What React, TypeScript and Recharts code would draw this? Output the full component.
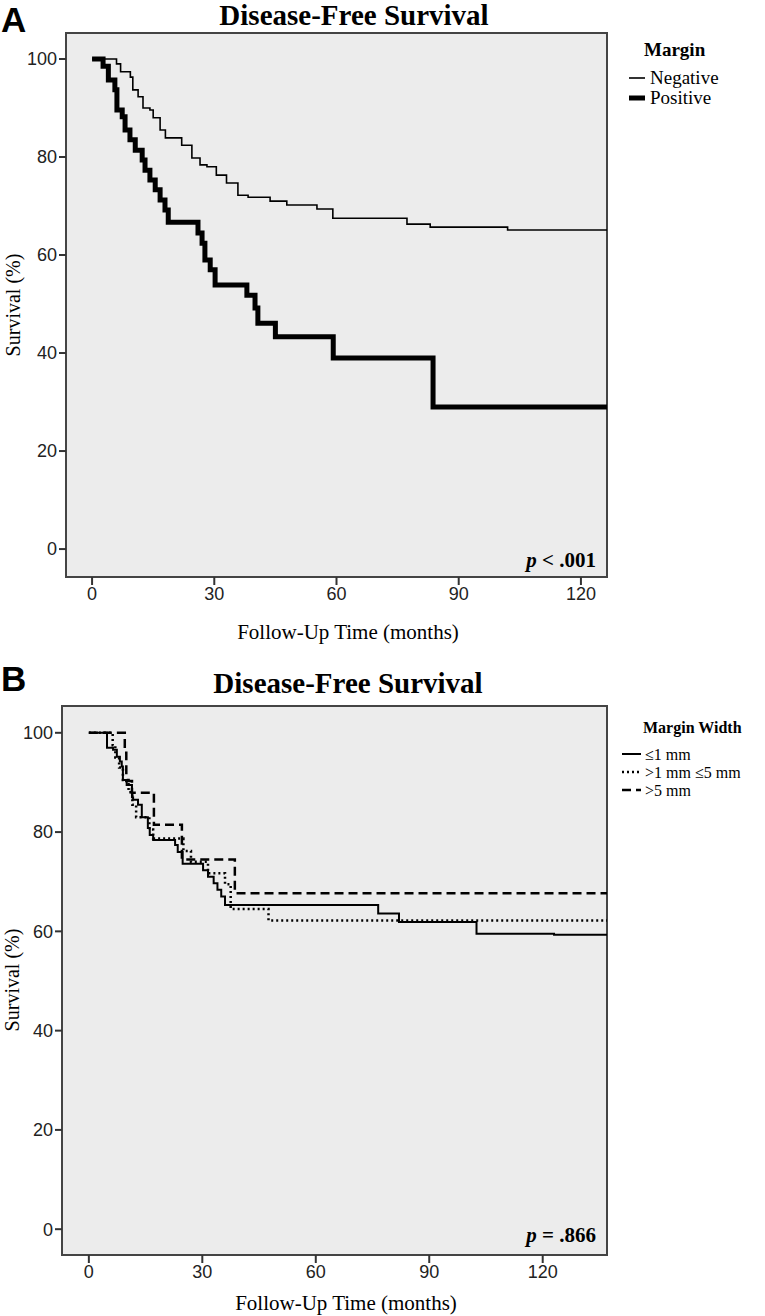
import { LineChart, Line, XAxis, YAxis, CartesianGrid, ReferenceArea } from "recharts";

// Panel A: disease-free survival by margin status, [months, survival %]
const negativeSteps = [
  [0, 100], [6, 99], [7, 97.4], [9.4, 96.3], [10, 93.7], [11.3, 92.3], [12.5, 90], [14.2, 89.6],
  [15, 88], [16.7, 85.5], [18, 83.9], [22, 82.4], [24.5, 79.8], [26.5, 78.4], [28.2, 78],
  [30.5, 76.3], [33, 74.7], [35.8, 72.2], [38.3, 71.8], [43.7, 71], [47.8, 70.2], [55.2, 69.4],
  [59.1, 67.5], [77.3, 66.3], [83, 65.7], [102, 65.1], [126.4, 65.1],
];
const positiveSteps = [
  [0, 100], [2.7, 98.5], [4, 95.7], [5.6, 93.7], [6.1, 89.6], [7.4, 88.2], [8.1, 85.5],
  [9.3, 83.5], [10.6, 81.4], [12.3, 79.4], [13, 77.3], [14.2, 75.3], [15.5, 73.3], [16.7, 71.2],
  [17.9, 69.2], [18.7, 66.7], [26, 64.5], [27, 62.4], [27.7, 59], [29, 57], [30.2, 53.9],
  [38, 51.8], [40, 49.2], [40.7, 46.1], [45, 43.3], [59.2, 39], [83.7, 29], [126.4, 29],
];

// Panel B: disease-free survival by margin width
const le1mmSteps = [
  [0, 100], [4.8, 97], [6.4, 96.6], [7.4, 95.2], [8.2, 94.2], [8.7, 93.2], [9, 90.5], [10, 89.5],
  [11.4, 87], [11.7, 86.5], [13, 85.5], [14, 83], [15.6, 80.8], [16.1, 79.4], [17, 78.4],
  [22.8, 77.4], [23.5, 76], [24.8, 73.6], [30.2, 72.3], [31.5, 71], [33, 69.7], [34, 68.4],
  [35, 67], [36, 65.3], [76.5, 63.6], [82, 61.9], [102.5, 59.5], [123, 59.3], [137, 59.3],
];
const mid1to5Steps = [
  [0, 100], [6.3, 97.5], [7, 95], [8, 93], [9, 90.5], [10.5, 88], [11.5, 85.5], [12.5, 83],
  [16, 80.5], [17, 78.7], [25, 76.2], [27, 74], [31.5, 71.7], [36, 69.5], [37.5, 64.5],
  [47.5, 62.2], [137, 62.2],
];
const gt5mmSteps = [
  [0, 100], [9.5, 96], [9.9, 90.3], [11.4, 87.9], [17.2, 81.5], [24.6, 74.5], [38.6, 67.7],
  [137, 67.7],
];

const xTicks = [0, 30, 60, 90, 120];
const yTicks = [0, 20, 40, 60, 80, 100];

const toRows = (steps: number[][]) => steps.map(([t, s]) => ({ t, s }));

const tickFont = { fontFamily: "'Liberation Sans', Arial, sans-serif", fontSize: 18, fill: "#222" };
const serif = "'Liberation Serif', 'Times New Roman', serif";
const axisStroke = { stroke: "#444", strokeWidth: 2 };

function Panel({ top, height, margin, yWidth, xDomain, yDomain, children }: any) {
  return (
    <div style={{ position: "absolute", top, left: 0 }}>
      <LineChart width={765} height={height} margin={margin}>
        <CartesianGrid fill="#ececec" horizontal={false} vertical={false} />
        <XAxis
          type="number" dataKey="t" domain={xDomain} ticks={xTicks} allowDataOverflow
          height={40} tick={tickFont} tickSize={8} tickLine={{ stroke: "#333", strokeWidth: 2 }}
          axisLine={axisStroke}
        />
        <YAxis
          type="number" dataKey="s" domain={yDomain} ticks={yTicks} allowDataOverflow
          width={yWidth} tick={tickFont} tickSize={7} tickLine={{ stroke: "#333", strokeWidth: 2 }}
          axisLine={axisStroke}
        />
        <ReferenceArea
          x1={xDomain[0]} x2={xDomain[1]} y1={yDomain[0]} y2={yDomain[1]}
          fill="none" stroke="#444" strokeWidth={2} fillOpacity={0} ifOverflow="visible"
        />
        {children}
      </LineChart>
    </div>
  );
}

export default function App() {
  return (
    <div style={{ position: "absolute", top: 0, left: 0, width: 765, height: 1316, background: "#fff" }}>
      <Panel
        top={0} height={650} margin={{ top: 33, right: 158, left: 0, bottom: 33 }} yWidth={66}
        xDomain={[-6.4, 126.4]} yDomain={[-5.7, 105.3]}
      >
        <Line data={toRows(negativeSteps)} dataKey="s" type="stepAfter" stroke="#000" strokeWidth={1.6}
          dot={false} isAnimationActive={false} name="Negative" />
        <Line data={toRows(positiveSteps)} dataKey="s" type="stepAfter" stroke="#000" strokeWidth={5}
          dot={false} isAnimationActive={false} name="Positive" />
      </Panel>
      <Panel
        top={650} height={666} margin={{ top: 56, right: 158, left: 0, bottom: 21 }} yWidth={62}
        xDomain={[-7.1, 137]} yDomain={[-5.2, 105.4]}
      >
        <Line data={toRows(le1mmSteps)} dataKey="s" type="stepAfter" stroke="#000" strokeWidth={2}
          dot={false} isAnimationActive={false} name="≤1 mm" />
        <Line data={toRows(mid1to5Steps)} dataKey="s" type="stepAfter" stroke="#000" strokeWidth={2.5}
          strokeDasharray="2 3" dot={false} isAnimationActive={false} name=">1 mm ≤5 mm" />
        <Line data={toRows(gt5mmSteps)} dataKey="s" type="stepAfter" stroke="#000" strokeWidth={2.5}
          strokeDasharray="9 5" dot={false} isAnimationActive={false} name=">5 mm" />
      </Panel>

      <svg width={765} height={1316} style={{ position: "absolute", top: 0, left: 0, pointerEvents: "none" }}>
        {/* panel letters and titles */}
        <text x={1} y={32} fontFamily="'Liberation Sans', Arial, sans-serif" fontWeight="bold" fontSize={35}>A</text>
        <text x={1} y={691} fontFamily="'Liberation Sans', Arial, sans-serif" fontWeight="bold" fontSize={35}>B</text>
        <text x={354} y={25} textAnchor="middle" fontFamily={serif} fontWeight="bold" fontSize={29}>Disease-Free Survival</text>
        <text x={348} y={693} textAnchor="middle" fontFamily={serif} fontWeight="bold" fontSize={29}>Disease-Free Survival</text>

        {/* axis titles */}
        <text x={348} y={639} textAnchor="middle" fontFamily={serif} fontSize={21}>Follow-Up Time (months)</text>
        <text x={346} y={1310} textAnchor="middle" fontFamily={serif} fontSize={21}>Follow-Up Time (months)</text>
        <text transform="translate(20,305) rotate(-90)" textAnchor="middle" fontFamily={serif} fontSize={20}>Survival (%)</text>
        <text transform="translate(19,980) rotate(-90)" textAnchor="middle" fontFamily={serif} fontSize={20}>Survival (%)</text>

        {/* p values */}
        <text x={596} y={567} textAnchor="end" fontFamily={serif} fontWeight="bold" fontSize={21}>
          <tspan fontStyle="italic">p</tspan> &lt; .001
        </text>
        <text x={596} y={1242} textAnchor="end" fontFamily={serif} fontWeight="bold" fontSize={21}>
          <tspan fontStyle="italic">p</tspan> = .866
        </text>

        {/* legend A */}
        <text x={644} y={56} fontFamily={serif} fontWeight="bold" fontSize={19}>Margin</text>
        <line x1={629} x2={645} y1={78} y2={78} stroke="#000" strokeWidth={1.6} />
        <text x={650} y={84} fontFamily={serif} fontSize={19}>Negative</text>
        <line x1={629} x2={645} y1={98} y2={98} stroke="#000" strokeWidth={5} />
        <text x={650} y={104} fontFamily={serif} fontSize={19}>Positive</text>

        {/* legend B */}
        <text x={643} y={733} fontFamily={serif} fontWeight="bold" fontSize={16}>Margin Width</text>
        <line x1={622} x2={641} y1={754} y2={754} stroke="#000" strokeWidth={2} />
        <text x={645} y={760} fontFamily={serif} fontSize={16}>≤1 mm</text>
        <line x1={622} x2={641} y1={772} y2={772} stroke="#000" strokeWidth={2.5} strokeDasharray="2 3" />
        <text x={645} y={778} fontFamily={serif} fontSize={16}>&gt;1 mm ≤5 mm</text>
        <line x1={622} x2={641} y1={790} y2={790} stroke="#000" strokeWidth={2.5} strokeDasharray="9 5" />
        <text x={645} y={796} fontFamily={serif} fontSize={16}>&gt;5 mm</text>
      </svg>
    </div>
  );
}
